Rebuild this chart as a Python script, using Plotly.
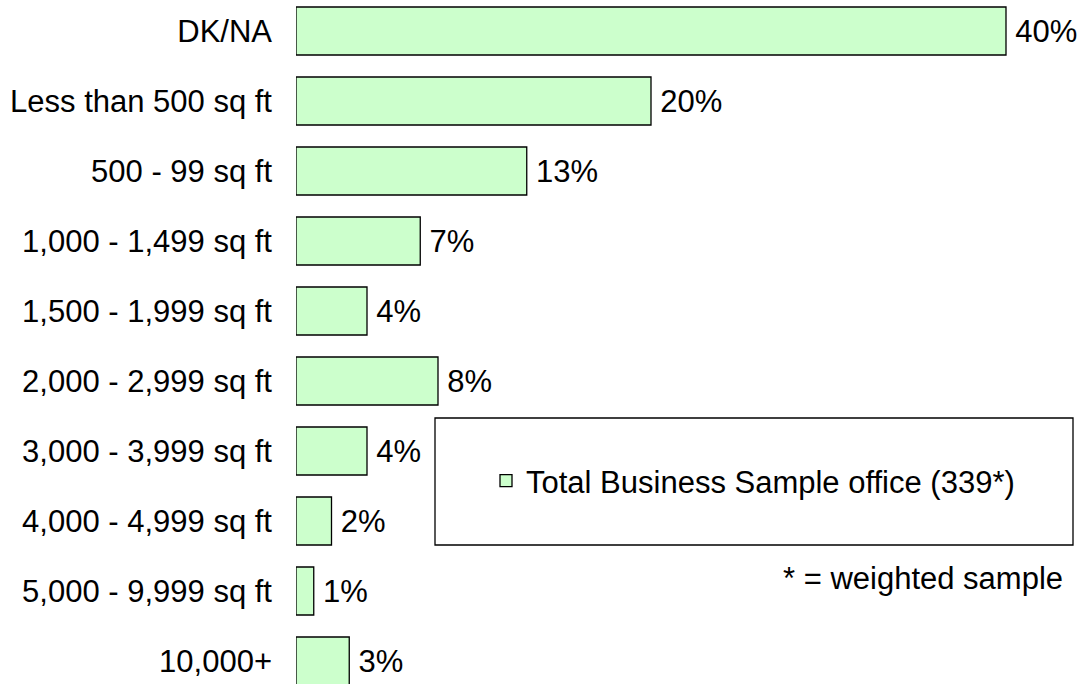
import plotly.graph_objects as go

categories = ["DK/NA", "Less than 500 sq ft", "500 - 99 sq ft", "1,000 - 1,499 sq ft",
              "1,500 - 1,999 sq ft", "2,000 - 2,999 sq ft", "3,000 - 3,999 sq ft",
              "4,000 - 4,999 sq ft", "5,000 - 9,999 sq ft", "10,000+"]
values = [40, 20, 13, 7, 4, 8, 4, 2, 1, 3]
series_name = "Total Business Sample office (339*)"
note = "* = weighted sample"

positions = list(range(len(categories)))
FONT = "Arial, Liberation Sans, sans-serif"
FS = 31

W, H = 1079, 684
L = 296
pw = W - L

def px(x):
    return (x - L) / pw

def py(y):
    return 1 - y / H

fig = go.Figure()
fig.add_trace(go.Bar(
    x=values, y=positions, orientation="h", name=series_name,
    width=0.686,
    marker=dict(color="#CCFFCC", line=dict(color="#000000", width=1.3)),
    text=[f"\u2009{v}%" for v in values], textposition="outside",
    constraintext="none", cliponaxis=False,
    textfont=dict(size=FS, color="black", family=FONT),
    showlegend=True,
))

fig.update_layout(
    width=W, height=H,
    margin=dict(l=L, r=0, t=0, b=0),
    paper_bgcolor="white", plot_bgcolor="white",
    font=dict(family=FONT, size=FS, color="black"),
    xaxis=dict(range=[0, pw / 17.75], visible=False, showgrid=False, zeroline=False),
    yaxis=dict(range=[9 + 23 / 70, -31 / 70], tickvals=positions, ticktext=categories,
               showgrid=False, zeroline=False, showline=False, ticks="",
               ticklabelstandoff=23, tickfont=dict(size=FS, family=FONT, color="black")),
    bargap=0.314,
    showlegend=True,
    legend=dict(x=px(486), y=py(481), xanchor="left", yanchor="middle",
                bgcolor="rgba(0,0,0,0)", borderwidth=0,
                font=dict(size=FS, family=FONT, color="black")),
    shapes=[dict(type="rect", xref="paper", yref="paper",
                 x0=px(435), x1=px(1073),
                 y0=py(545), y1=py(418),
                 line=dict(color="black", width=1.3), fillcolor="rgba(0,0,0,0)")],
    annotations=[dict(text=note, xref="paper", yref="paper",
                      x=px(1065), y=py(578), xanchor="right", yanchor="middle",
                      showarrow=False, font=dict(size=FS, family=FONT, color="black"))],
)

fig.write_html("out.html", config={"displayModeBar": False},
               post_script="document.body.style.margin='0';document.body.style.overflow='hidden';")
